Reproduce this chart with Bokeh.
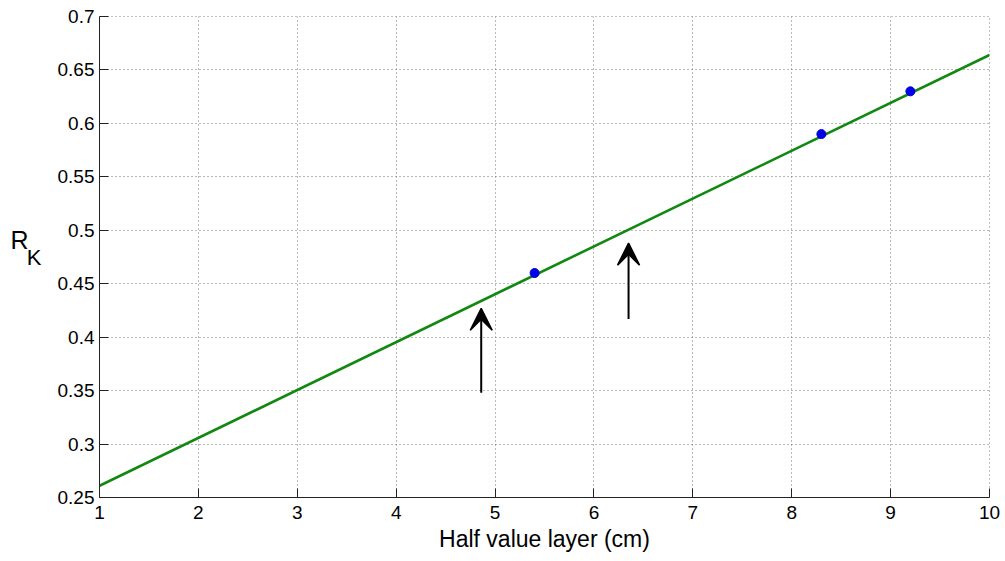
from bokeh.plotting import figure
from bokeh.models import Range1d, FixedTicker, Arrow, VeeHead, ColumnDataSource, LinearAxis
from bokeh.embed import file_html
from bokeh.resources import INLINE

# Data
x_line = [1, 10]
y_line = [0.261, 0.664]
x_pts = [5.4, 8.3, 9.2]
y_pts = [0.46, 0.59, 0.63]
arrow_x = [4.86, 6.35]
arrow_y_start = [0.348, 0.417]
arrow_y_end = [0.427, 0.488]
x_ticks = [1, 2, 3, 4, 5, 6, 7, 8, 9, 10]
y_ticks = [0.25, 0.3, 0.35, 0.4, 0.45, 0.5, 0.55, 0.6, 0.65, 0.7]
x_label = "Half value layer (cm)"
y_label_main = "R"
y_label_sub = "K"

FONT = "Liberation Sans"

p = figure(width=1005, height=561, output_backend="svg", toolbar_location=None,
           x_range=Range1d(1, 10), y_range=Range1d(0.25, 0.7),
           min_border_left=99, min_border_right=16, min_border_top=16, min_border_bottom=64)

p.background_fill_color = "white"
p.border_fill_color = "white"
p.outline_line_color = "#808080"
p.outline_line_dash = "1 3"

for ax in (p.xaxis[0], p.yaxis[0]):
    ax.axis_line_color = "#222222"
    ax.axis_line_width = 1
    ax.major_tick_in = 9
    ax.major_tick_out = 0
    ax.major_tick_line_color = "#222222"
    ax.minor_tick_line_color = None
    ax.major_label_text_font = FONT
    ax.major_label_text_font_size = "19px"
    ax.major_label_text_color = "black"

p.xaxis.major_label_standoff = 8
p.yaxis.major_label_standoff = 5

p.xaxis.ticker = FixedTicker(ticks=x_ticks)
p.yaxis.ticker = FixedTicker(ticks=y_ticks)
p.yaxis.major_label_overrides = {v: f"{v:g}" for v in y_ticks}

p.xaxis.axis_label = x_label
p.xaxis.axis_label_text_font = FONT
p.xaxis.axis_label_text_font_size = "23px"
p.xaxis.axis_label_text_font_style = "normal"
p.xaxis.axis_label_text_color = "black"
p.xaxis.axis_label_standoff = 4


def label_axis(text, size, standoff):
    a = LinearAxis(ticker=FixedTicker(ticks=[]), axis_line_color=None,
                   major_tick_line_color=None, minor_tick_line_color=None,
                   major_tick_in=0, major_tick_out=0, minor_tick_in=0, minor_tick_out=0,
                   major_label_text_font_size="0px", major_label_standoff=0,
                   axis_label=text, axis_label_orientation="horizontal",
                   axis_label_text_font=FONT, axis_label_text_font_size=size,
                   axis_label_text_font_style="normal", axis_label_text_color="black",
                   axis_label_standoff=standoff)
    return a


p.add_layout(label_axis(y_label_sub, "22px", 13), "left")
p.add_layout(label_axis(y_label_main + "\n ", "25px", -5), "left")

for g in (p.xgrid[0], p.ygrid[0]):
    g.grid_line_color = "#707070"
    g.grid_line_dash = "1 3"
    g.grid_line_width = 1

p.line(x_line, y_line, line_color="#118811", line_width=2.6)
p.scatter(x_pts, y_pts, size=9, fill_color="#0000ee", line_color="#0000cc")

src = ColumnDataSource(dict(x=arrow_x, y0=arrow_y_start, y1=arrow_y_end))
p.add_layout(Arrow(x_start="x", y_start="y0", x_end="x", y_end="y1", source=src,
                   line_color="black", line_width=2,
                   end=VeeHead(size=22, fill_color="black", line_color="black", line_width=1.5)))

open("out.html", "w").write(file_html(p, INLINE))
